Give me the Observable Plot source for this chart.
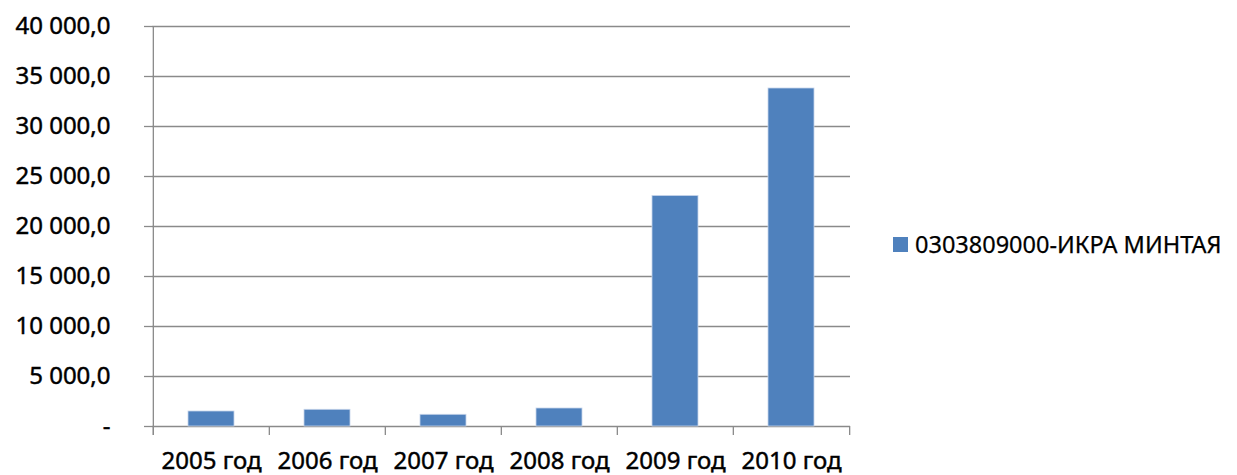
<!DOCTYPE html>
<html>
<head>
<meta charset="utf-8">
<script src="https://cdn.jsdelivr.net/npm/d3@7"></script>
<script src="https://cdn.jsdelivr.net/npm/@observablehq/plot@0.6"></script>
<style>
  body { margin: 0; background: #fff; }
  #wrap { position: relative; width: 1237px; height: 475px; font-family: "Noto Sans", sans-serif; }
  #wrap svg text { stroke: #000; stroke-width: 0.45px; }
  #legend { position: absolute; left: 893px; top: 228px; display: flex; align-items: center; font-size: 23.5px; color: #000; white-space: nowrap; -webkit-text-stroke: 0.25px #000; }
  #legend .sw { width: 15px; height: 15px; background: #4F81BD; margin-right: 7px; }
</style>
</head>
<body>
<div id="wrap"><div id="legend"><span class="sw"></span><span id="legtext"></span></div></div>
<script>
const years = ["2005 год", "2006 год", "2007 год", "2008 год", "2009 год", "2010 год"];
const values = [1500, 1670, 1170, 1800, 23050, 33800];
const seriesName = "0303809000-ИКРА МИНТАЯ";
const yTicks = [0, 5000, 10000, 15000, 20000, 25000, 30000, 35000, 40000];

const data = years.map((y, i) => ({year: y, value: values[i]}));
const ru = d3.formatLocale({decimal: ",", thousands: "\u00a0", grouping: [3], currency: ["", ""]});
const fmt = ru.format(",.1f");

const W = 1237, H = 475, mL = 152, mR = 387, mT = 26, mB = 49;
const step = (W - mL - mR) / years.length;
const grey = "#8a8a8a";

const chart = Plot.plot({
  width: W, height: H,
  marginLeft: mL, marginRight: mR, marginTop: mT, marginBottom: mB,
  style: {fontFamily: "Noto Sans, sans-serif", fontSize: "24px", color: "#000", background: "transparent"},
  x: {domain: years, paddingInner: 0.6, paddingOuter: 0.3, label: null},
  y: {domain: [0, 40000], label: null},
  marks: [
    Plot.gridY(yTicks, {stroke: grey, strokeOpacity: 1, strokeWidth: 1.3}),
    Plot.axisY(yTicks, {tickSize: 8, tickPadding: 34, stroke: grey, strokeWidth: 1.3, tickFormat: d => d === 0 ? "-" : fmt(d), fill: "#000", label: null, fontSize: 24}),
    Plot.barY(data, {x: "year", y: "value", fill: "#4F81BD", stroke: "#c6d4ea", strokeWidth: 0.8}),
    Plot.ruleX(years, {x: d => d, dx: -step / 2, y1: 0, y2: 0, insetTop: 9, stroke: grey, strokeWidth: 1.3}),
    Plot.ruleX([years[years.length - 1]], {x: d => d, dx: step / 2, y1: 0, y2: 0, insetTop: 9, stroke: grey, strokeWidth: 1.3}),
    Plot.ruleX([years[0]], {x: d => d, dx: -step / 2, y1: 0, y2: 40000, insetTop: 9, stroke: grey, strokeWidth: 1.3}),
    Plot.axisX({tickSize: 0, tickPadding: 25, fill: "#000", label: null, fontSize: 24})
  ]
});
document.getElementById("wrap").prepend(chart);
document.getElementById("legtext").textContent = seriesName;
</script>
</body>
</html>
